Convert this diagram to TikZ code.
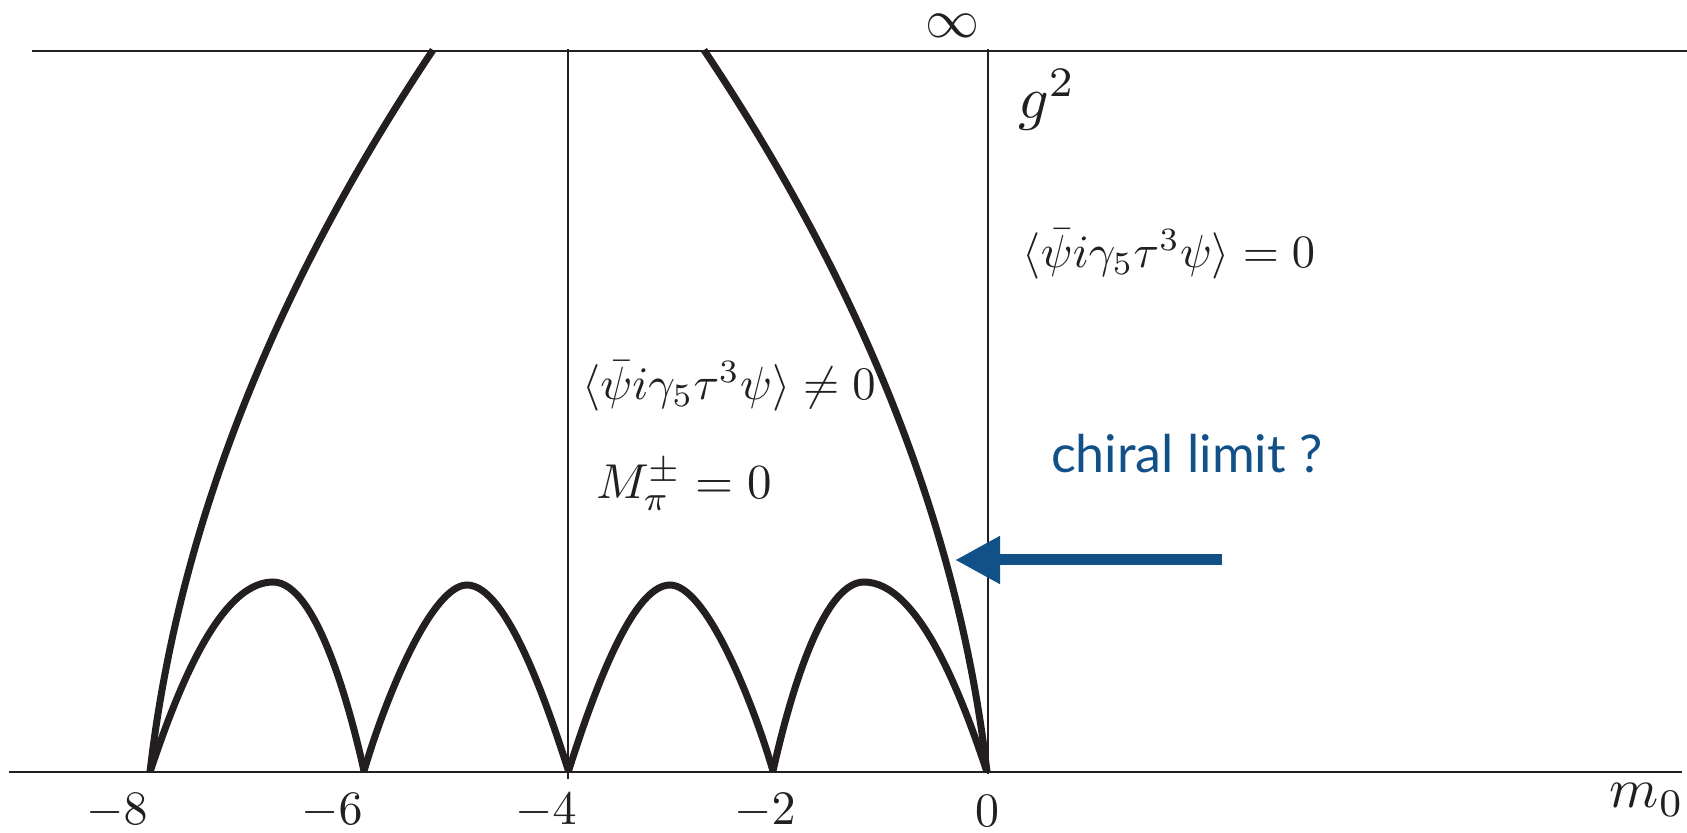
\documentclass[tikz,border=0pt]{standalone}
\usepackage{fontspec}
\newfontfamily\chiralfont{Lato}
\usetikzlibrary{arrows.meta}
\definecolor{curvecol}{HTML}{231F20}
\definecolor{chiralblue}{RGB}{17,81,136}
\begin{document}
\begin{tikzpicture}[x=0.5pt,y=-0.5pt,
  axisline/.style={line width=1pt, draw=curvecol},
  thickcurve/.style={line width=3.5pt, draw=curvecol, line join=miter},
  lab/.style={inner sep=0pt, text=curvecol},
  bluearrow/.style={line width=5.5pt, draw=chiralblue, -{Triangle[length=22.5pt,width=22.5pt]}}]
\useasboundingbox (0,0) rectangle (1687,833);

% frame lines
\coordinate (TL) at (32,51);  \coordinate (TR) at (1687,51);
\coordinate (BL) at (9,772);  \coordinate (BR) at (1682,772);
\coordinate (V4t) at (568,49); \coordinate (V4b) at (568,779);
\coordinate (V0t) at (988,49); \coordinate (V0b) at (988,774);
\draw[axisline] (TL) -- (TR);
\draw[axisline, line width=1.3pt] (BL) -- (BR);
\draw[axisline] (V4t) -- (V4b);
\draw[axisline] (V0t) -- (V0b);

% cusps and peaks
\coordinate (c8) at (150,772);
\coordinate (c6) at (364,771);
\coordinate (c4) at (568.5,771);
\coordinate (c2) at (773,771);
\coordinate (c0) at (987,772);
\coordinate (p1) at (273,582);
\coordinate (p2) at (467,585);
\coordinate (p3) at (670,585);
\coordinate (p4) at (864,582);
\coordinate (topL) at (433,50);
\coordinate (topR) at (704,50);

% big curves
\draw[thickcurve] (c8) .. controls (177.7,531.3) and (272,290.7) .. (topL);
\draw[thickcurve] (c0) .. controls (959.3,531.3) and (865,290.7) .. (topR);

% arches
\draw[thickcurve] (c8) .. controls (175,697) and (218,582) .. (p1)
                       .. controls (318,582) and (352,717) .. (c6);
\draw[thickcurve] (c6) .. controls (386,696) and (432,585) .. (p2)
                       .. controls (507,585) and (548,707) .. (c4);
\draw[thickcurve] (c4) .. controls (589,707) and (630,585) .. (p3)
                       .. controls (705,585) and (751,696) .. (c2);
\draw[thickcurve] (c2) .. controls (785,717) and (819,582) .. (p4)
                       .. controls (919,582) and (962,697) .. (c0);

% arrow
\coordinate (arrS) at (1222,560);
\coordinate (arrT) at (955,560);
\draw[bluearrow] (arrS) -- (arrT);

% labels
\node[lab, scale=2.7] (inf) at (952,26) {$\infty$};
\node[lab, scale=3.0] (g2) at (1047,100) {$g^2$};
\node[lab, scale=2.32] (eq0) at (1169,254) {$\langle\bar\psi i\gamma_5\tau^3\psi\rangle = 0$};
\node[lab, scale=2.33] (neq) at (729,386) {$\langle\bar\psi i\gamma_5\tau^3\psi\rangle \neq 0$};
\node[lab, scale=2.45] (mpi) at (684,485) {$M_\pi^\pm = 0$};
\node[lab, anchor=base west, text=chiralblue, scale=2.6, font=\chiralfont] (chiral) at (1050,473) {chiral limit ?};

\node[lab, scale=2.4] (t8) at (117,811) {$-8$};
\node[lab, scale=2.4] (t6) at (332,811) {$-6$};
\node[lab, scale=2.4] (t4) at (546,811) {$-4$};
\node[lab, scale=2.4] (t2) at (765,811) {$-2$};
\node[lab, scale=2.4] (t0) at (987,811) {$0$};
\node[lab, scale=2.8] (m0) at (1647,800) {$m_0$};
\end{tikzpicture}
\end{document}
